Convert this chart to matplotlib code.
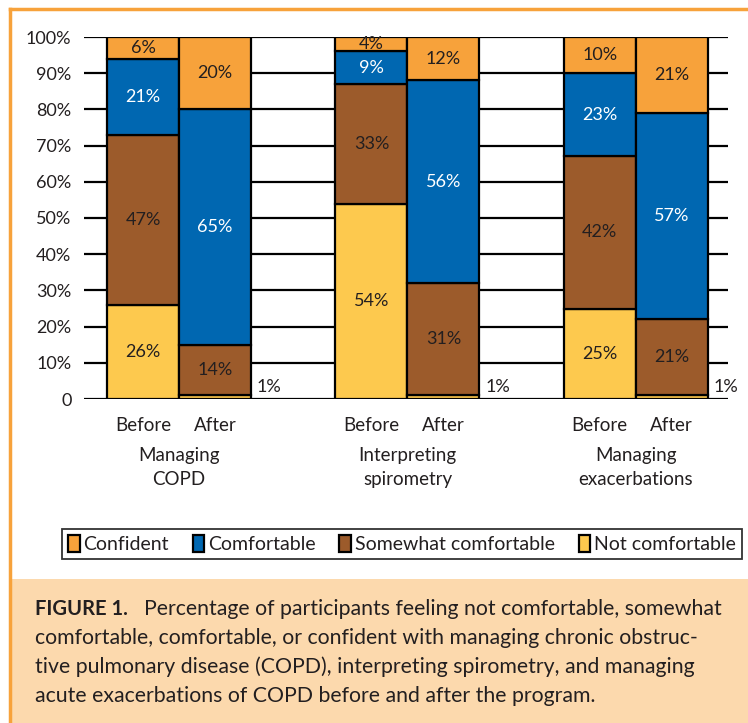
import matplotlib
matplotlib.use("Agg")
import matplotlib.pyplot as plt
from matplotlib.patches import Patch, Rectangle
from matplotlib.lines import Line2D
import numpy as np

plt.rcParams["font.family"] = ["Lato", "DejaVu Sans"]

# data (percent of participants)
groups = ["Managing\nCOPD", "Interpreting\nspirometry", "Managing\nexacerbations"]
phases = ["Before", "After"]
levels = ["Not comfortable", "Somewhat comfortable", "Comfortable", "Confident"]
# bars in order: COPD before, COPD after, spiro before, spiro after, exac before, exac after
not_comfortable = [26, 1, 54, 1, 25, 1]
somewhat_comfortable = [47, 14, 33, 31, 42, 21]
comfortable = [21, 65, 9, 56, 23, 57]
confident = [6, 20, 4, 12, 10, 21]
yticks_pct = [0, 10, 20, 30, 40, 50, 60, 70, 80, 90, 100]

colors = {"Not comfortable": "#FDC94E", "Somewhat comfortable": "#9C5B2B",
          "Comfortable": "#0067B1", "Confident": "#F7A23B"}
label_colors = {"Not comfortable": "#231F20", "Somewhat comfortable": "#231F20",
                "Comfortable": "white", "Confident": "#231F20"}
TXT = "#231F20"
ORANGE = "#F7A23B"

W, H = 748, 723
fig = plt.figure(figsize=(W / 100, H / 100), dpi=100)

# caption panel + orange frame
fig.add_artist(Rectangle((10 / W, 0), 1 - 10 / W, 144 / H, transform=fig.transFigure,
                         facecolor="#FCD9AD", edgecolor="none", zorder=0))
fig.add_artist(Line2D([10 / W, 10 / W], [0, 1 - 9 / H], transform=fig.transFigure,
                      color=ORANGE, lw=2.5))
fig.add_artist(Line2D([10 / W, 1], [1 - 9 / H, 1 - 9 / H], transform=fig.transFigure,
                      color=ORANGE, lw=2.5))

ax = fig.add_axes([84 / W, 324 / H, 644 / W, 362 / H])

gap = 3.17
pos = []
for g in range(len(groups)):
    pos += [g * gap + 0.5, g * gap + 1.5]
pos = np.array(pos)

for y in yticks_pct:
    ax.axhline(y, color="black", lw=1.6, zorder=1)

series = {"Not comfortable": not_comfortable, "Somewhat comfortable": somewhat_comfortable,
          "Comfortable": comfortable, "Confident": confident}
bottom = np.zeros(len(pos))
for lev in levels:
    vals = np.array(series[lev], dtype=float)
    ax.bar(pos, vals, width=1.0, bottom=bottom, color=colors[lev],
           edgecolor="black", linewidth=1.6, zorder=2)
    for i, v in enumerate(vals):
        if lev == "Not comfortable" and v < 5:
            ax.text(pos[i] + 0.58, 3.2, f"{int(v)}%", ha="left", va="center",
                    fontsize=13, color=TXT, zorder=3)
        else:
            ax.text(pos[i], bottom[i] + v / 2, f"{int(v)}%", ha="center", va="center",
                    fontsize=13, color=label_colors[lev], zorder=3)
    bottom += vals

ax.set_xlim(-0.32, 8.62)
ax.set_ylim(0, 100)
ax.set_yticks(yticks_pct)
ax.set_yticklabels([f"{y}%" if y else "0" for y in yticks_pct], fontsize=13, color=TXT)
ax.tick_params(axis="y", length=0, pad=9)
ax.set_xticks([])
for s in ax.spines.values():
    s.set_visible(False)

# Before/After and group labels
for i, p in enumerate(pos):
    ax.text(p, -5.0, phases[i % 2], ha="center", va="top", fontsize=13.5, color=TXT)
for g, name in enumerate(groups):
    ax.text(g * gap + 1.0, -13.2, name, ha="center", va="top", fontsize=13.5,
            color=TXT, linespacing=1.55)

handles = [Patch(facecolor=colors[l], edgecolor="black", linewidth=1.6)
           for l in reversed(levels)]
leg = fig.legend(handles, list(reversed(levels)), loc="lower left",
                 bbox_to_anchor=(62 / W, (H - 559) / H, 680 / W, 35 / H),
                 mode="expand", ncol=4, borderaxespad=0, fontsize=14,
                 handlelength=0.6, handleheight=1.0, handletextpad=0.2,
                 columnspacing=0.4, fancybox=False, borderpad=0.3,
                 labelcolor=TXT)
leg.get_frame().set_edgecolor("black")
leg.get_frame().set_linewidth(1.3)

caption = ["comfortable, comfortable, or confident with managing chronic obstruc-",
           "tive pulmonary disease (COPD), interpreting spirometry, and managing",
           "acute exacerbations of COPD before and after the program."]
fig.text(35 / W, 1 - 609 / H, "FIGURE 1.", fontsize=14.5, fontweight="bold",
         color=TXT, va="center", ha="left")
fig.text(144 / W, 1 - 609 / H,
         "Percentage of participants feeling not comfortable, somewhat",
         fontsize=15.3, color=TXT, va="center", ha="left")
for k, line in enumerate(caption):
    fig.text(35 / W, 1 - (638 + 29 * k) / H, line, fontsize=15.3, color=TXT,
             va="center", ha="left")

fig.savefig("out.png", dpi=100)
